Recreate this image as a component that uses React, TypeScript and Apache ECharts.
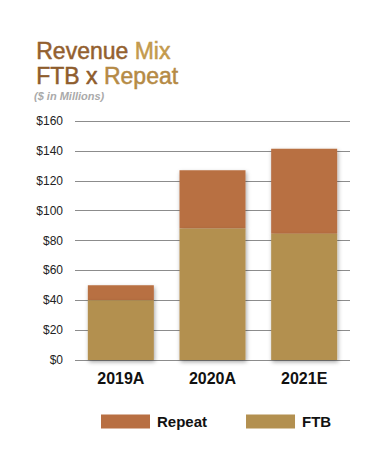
import React, { useEffect, useRef } from "react";
import * as echarts from "echarts";

const categories = ["2019A", "2020A", "2021E"];
const ftbValues = [40, 88, 84.5];
const repeatValues = [10, 39, 57];
const yTicks = { min: 0, max: 160, interval: 20 };

export default function App() {
  const ref = useRef<HTMLDivElement>(null);
  useEffect(() => {
    const chart = echarts.init(ref.current!, null, { renderer: "svg" });
    const font = "'Liberation Sans', Arial, sans-serif";
    const shadow = {
      shadowColor: "rgba(0,0,0,0.35)",
      shadowBlur: 4,
      shadowOffsetX: 1,
      shadowOffsetY: 2,
    };
    const titleStyle = (c: string) => ({
      fontSize: 23,
      fontFamily: font,
      fill: c,
      stroke: c,
      lineWidth: 0.5,
      lineHeight: 25,
    });
    chart.setOption({
      animation: false,
      backgroundColor: "#ffffff",
      graphic: [
        {
          type: "text",
          left: 36,
          top: 38,
          style: {
            text: "{a|Revenue} {b|Mix}\n{c|FTB x} {d|Repeat}",
            fontSize: 23,
            fontFamily: font,
            fill: "#a87a3c",
            lineHeight: 25,
            rich: {
              a: titleStyle("#93602f"),
              b: titleStyle("#c39a4d"),
              c: titleStyle("#8e5c2d"),
              d: titleStyle("#b58a45"),
            },
          },
        },
        {
          type: "text",
          left: 34,
          top: 90,
          style: {
            text: "($ in Millions)",
            font: `italic bold 11px ${font}`,
            fill: "#aaaaaa",
          },
        },
      ],
      legend: {
        data: ["Repeat", "FTB"],
        left: 96,
        top: 409,
        icon: "rect",
        itemWidth: 49,
        itemHeight: 14,
        itemGap: 39,
        textStyle: {
          fontFamily: font,
          fontWeight: "bold",
          fontSize: 15,
          color: "#111",
          padding: [0, 0, 0, 2],
        },
      },
      grid: { left: 75, right: 34, top: 121, bottom: 108 },
      xAxis: {
        type: "category",
        data: categories,
        axisLine: { show: false },
        axisTick: { show: false },
        axisLabel: {
          margin: 10,
          fontFamily: font,
          fontWeight: "bold",
          fontSize: 16,
          color: "#111",
        },
      },
      yAxis: {
        type: "value",
        min: yTicks.min,
        max: yTicks.max,
        interval: yTicks.interval,
        axisLine: { show: false },
        axisTick: { show: false },
        axisLabel: {
          margin: 12,
          fontFamily: font,
          fontSize: 12,
          color: "#222",
          formatter: (v: number) => "$" + v,
        },
        splitLine: { lineStyle: { color: "#8c8c8c", width: 1 } },
      },
      series: [
        {
          name: "FTB",
          type: "bar",
          stack: "total",
          barWidth: "72%",
          z: 3,
          data: ftbValues,
          itemStyle: { color: "#b39050", ...shadow },
        },
        {
          name: "Repeat",
          type: "bar",
          stack: "total",
          barWidth: "72%",
          z: 2,
          data: repeatValues,
          itemStyle: { color: "#b86f42", ...shadow },
        },
      ],
    });
    return () => chart.dispose();
  }, []);
  return <div ref={ref} style={{ width: 384, height: 468, margin: -8 }} />;
}
